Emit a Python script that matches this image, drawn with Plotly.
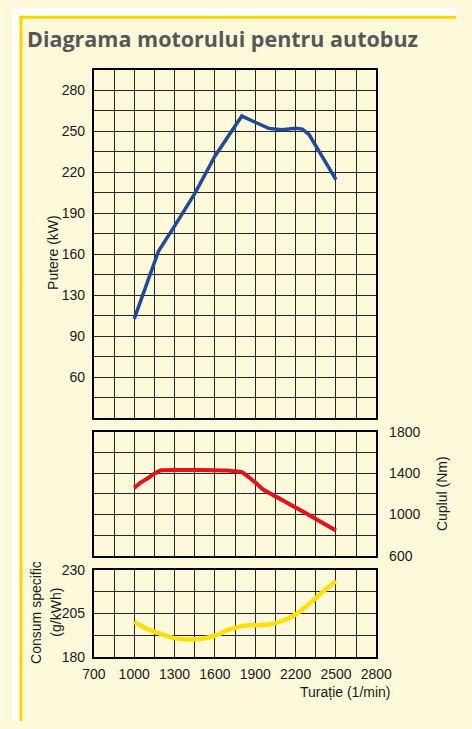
import plotly.graph_objects as go

# ---- data ----
rpm_power = [1000, 1180, 1300, 1450, 1600, 1800, 1900, 2000, 2100, 2200, 2250, 2300, 2400, 2500]
power_kw = [112.6, 162, 180.5, 204.3, 231.6, 261, 256.5, 252, 251, 252, 251.5, 247.5, 231, 214.5]

rpm_torque = [1000, 1050, 1100, 1150, 1200, 1400, 1600, 1700, 1800, 1900, 1950, 2000, 2100, 2250, 2500]
torque_nm = [1257, 1310, 1350, 1395, 1428, 1430, 1428, 1424, 1410, 1310, 1250, 1210, 1140, 1030, 845]

rpm_cons = [1000, 1100, 1200, 1300, 1400, 1500, 1600, 1700, 1800, 1900, 2000, 2100, 2200, 2300, 2400, 2500]
cons_gkwh = [200.2, 196, 193.2, 190.8, 190, 190.4, 192.2, 195.5, 197.7, 198.3, 198.7, 200.7, 204.5, 210.6, 217.4, 223.8]

rpm_tick_vals = [700, 1000, 1300, 1600, 1900, 2200, 2500, 2800]
power_tick_vals = [70, 100, 130, 160, 190, 220, 250, 280]
power_tick_text = ["60", "90", "130", "160", "190", "220", "250", "280"]
torque_tick_vals = [600, 1000, 1400, 1800]
cons_tick_vals = [180, 205, 230]

title_text = "Diagrama motorului pentru autobuz"
power_title = "Putere (kW)"
torque_title = "Cuplul (Nm)"
cons_title_1 = "Consum specific"
cons_title_2 = "(g/kWh)"
rpm_title = "Turație (1/min)"

# ---- layout helpers (page pixels -> paper fractions) ----
W, H = 472, 729
def fx(px):
    return px / W
def fy(py):
    return 1 - py / H

CREAM = "#FFF9DC"
GRID = "#262626"
FONT = "Liberation Sans, Arial, sans-serif"
TXT = "#1a1a1a"

fig = go.Figure()
fig.add_trace(go.Scatter(x=rpm_power, y=power_kw, mode="lines",
                         line=dict(color="#1F4A98", width=3.5), xaxis="x", yaxis="y",
                         showlegend=False, hoverinfo="skip"))
fig.add_trace(go.Scatter(x=rpm_torque, y=torque_nm, mode="lines",
                         line=dict(color="#E4121B", width=4, shape="spline", smoothing=0.4),
                         xaxis="x2", yaxis="y2", showlegend=False, hoverinfo="skip"))
fig.add_trace(go.Scatter(x=rpm_cons, y=cons_gkwh, mode="lines",
                         line=dict(color="#FFE000", width=4.5, shape="spline"),
                         xaxis="x3", yaxis="y3", showlegend=False, hoverinfo="skip"))

xdom = [fx(87), fx(387.3)]
common_ax = dict(showline=True, linecolor="black", linewidth=2, mirror=True,
                 showgrid=True, gridcolor=GRID, gridwidth=1, zeroline=False,
                 ticks="outside", tickcolor="rgba(0,0,0,0)",
                 tickfont=dict(family=FONT, size=14, color=TXT), fixedrange=True)

def xax(anchor, labels):
    d = dict(common_ax)
    d.update(domain=xdom, anchor=anchor, range=[700, 2800], tickmode="array",
             tickvals=rpm_tick_vals, showticklabels=labels, ticklen=3,
             minor=dict(tickmode="linear", tick0=700, dtick=150, showgrid=True,
                        gridcolor=GRID, gridwidth=1, ticks=""))
    return d

layout = dict(
    width=W, height=H, margin=dict(l=0, r=0, t=0, b=0),
    paper_bgcolor=CREAM, plot_bgcolor=CREAM,
    xaxis=xax("y", False), xaxis2=xax("y2", False), xaxis3=xax("y3", True),
)

ya = dict(common_ax)
ya.update(domain=[fy(419.3), fy(63)], anchor="x", range=[40, 295], tickmode="array",
          tickvals=power_tick_vals, ticktext=power_tick_text, ticklen=4,
          minor=dict(tickmode="linear", tick0=40, dtick=15, showgrid=True,
                     gridcolor=GRID, gridwidth=1, ticks=""))
ya2 = dict(common_ax)
ya2.update(domain=[fy(560), fy(433.3)], anchor="x2", range=[600, 1800], side="right",
           tickmode="array", tickvals=torque_tick_vals, ticklen=8,
           title=dict(text=torque_title, font=dict(family=FONT, size=14, color=TXT), standoff=18),
           automargin=False,
           minor=dict(tickmode="linear", tick0=600, dtick=200, showgrid=True,
                      gridcolor=GRID, gridwidth=1, ticks=""))
ya3 = dict(common_ax)
ya3.update(domain=[fy(663.3), fy(575)], anchor="x3", range=[180, 230],
           tickmode="array", tickvals=cons_tick_vals, ticklen=4,
           minor=dict(tickmode="linear", tick0=180, dtick=12.5, showgrid=True,
                      gridcolor=GRID, gridwidth=1, ticks=""))
layout.update(yaxis=ya, yaxis2=ya2, yaxis3=ya3)

# white outside the frame (top/left), yellow frame running off the right and bottom
layout["shapes"] = [
    dict(type="rect", xref="paper", yref="paper", x0=0, x1=1, y0=fy(8), y1=1,
         line=dict(width=0), fillcolor="white", layer="below"),
    dict(type="rect", xref="paper", yref="paper", x0=0, x1=fx(8), y0=0, y1=1,
         line=dict(width=0), fillcolor="white", layer="below"),
    dict(type="line", xref="paper", yref="paper", x0=fx(9.5), x1=fx(9.5), y0=0, y1=fy(8),
         line=dict(color="#FFD400", width=3)),
    dict(type="line", xref="paper", yref="paper", x0=fx(8), x1=1, y0=fy(9.5), y1=fy(9.5),
         line=dict(color="#FFD400", width=3)),
]

def ann(text, x, y, angle=0, size=14, **kw):
    d = dict(text=text, xref="paper", yref="paper", x=fx(x), y=fy(y), showarrow=False,
             textangle=angle, font=dict(family=FONT, size=size, color=TXT),
             xanchor="center", yanchor="middle")
    d.update(kw)
    return d

layout["annotations"] = [
    dict(text="<b>" + title_text + "</b>", xref="paper", yref="paper", x=fx(14), y=fy(31),
         xanchor="left", yanchor="middle", showarrow=False,
         font=dict(family="Open Sans, sans-serif", size=21.5, color="#575757")),
    ann(power_title, 43, 250, -90),
    ann(cons_title_1, 26, 618, -90),
    ann(cons_title_2, 47, 618, -90),
    ann(rpm_title, 354, 699),
]

fig.update_layout(**layout)
fig.write_html(
    "out.html",
    config={"displayModeBar": False},
    post_script=(
        "document.body.style.margin='0px';"
        "document.body.style.overflow='hidden';"
        "document.documentElement.style.overflow='hidden';"
        "var gdiv=document.getElementById('{plot_id}');"
        "if(gdiv){gdiv.style.overflow='hidden';}"
    ),
)
